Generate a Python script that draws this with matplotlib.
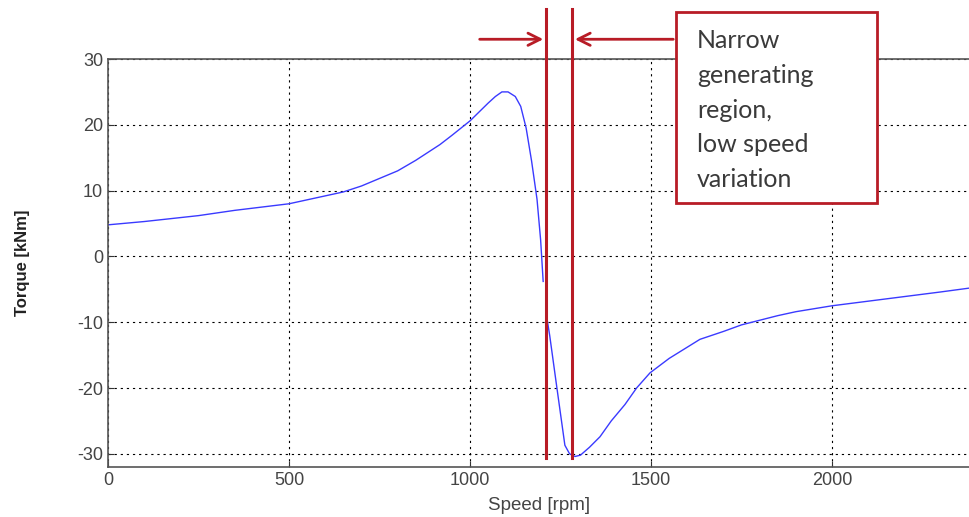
import numpy as np
import matplotlib.pyplot as plt
from matplotlib.patches import Rectangle, FancyArrowPatch

plt.rcParams['axes.unicode_minus'] = False

# torque-speed curve (nan = gap at the red line)
speed = [0, 100, 250, 350, 500, 650, 700, 800, 850, 917, 950, 1000, 1050, 1070, 1088,
         1105, 1125, 1140, 1155, 1170, 1185, 1195, 1202,
         np.nan, 1213, 1220, 1240, 1262, 1275, 1290, 1305, 1330, 1359, 1390, 1428,
         1460, 1497, 1550, 1635, 1700, 1750, 1850, 1900, 2000, 2100, 2200, 2300, 2381]
torque = [4.8, 5.3, 6.2, 7.0, 8.0, 9.8, 10.7, 13.0, 14.6, 17.0, 18.4, 20.6, 23.3, 24.3, 25.0,
          25.0, 24.3, 22.8, 19.5, 14.5, 8.7, 2.5, -3.8,
          np.nan, -9.6, -12.0, -20.0, -28.7, -30.0, -30.4, -30.2, -29.0, -27.4, -25.0, -22.5,
          -20.0, -17.7, -15.5, -12.6, -11.4, -10.4, -9.0, -8.4, -7.5, -6.8, -6.1, -5.4, -4.8]

region_edges = [1210, 1282]
xticks = [0, 500, 1000, 1500, 2000]
yticks = [-30, -20, -10, 0, 10, 20, 30]
note = "Narrow\ngenerating\nregion,\nlow speed\nvariation"

red = '#b81c26'

fig = plt.figure(figsize=(9.7, 5.17), dpi=100)
ax = fig.add_axes([108 / 970, 50 / 517, 1 - 108 / 970, 408 / 517])

ax.plot(speed, torque, color='#3a3aff', lw=1.0)

ax.set_xlim(0, 2381)
ax.set_ylim(-32, 30)
ax.set_xticks(xticks)
ax.set_yticks(yticks)
ax.tick_params(direction='in', length=4, colors='#333333', labelsize=13,
               labelcolor='#444444', top=False, right=False)
for lab in ax.get_xticklabels() + ax.get_yticklabels():
    lab.set_family('Liberation Sans')
ax.grid(True, color='black', linestyle=(0, (2, 3.5)), lw=0.8)
ax.spines['right'].set_visible(False)
for s in ['left', 'bottom', 'top']:
    ax.spines[s].set_color('#555555')
    ax.spines[s].set_linewidth(1.2)

ax.set_xlabel('Speed [rpm]', fontsize=13.5, color='#444444', family='Liberation Sans',
              labelpad=6)
ax.set_ylabel('Torque [kNm]', fontsize=12, color='#222222',
              family=['Liberation Sans Narrow', 'Liberation Sans'],
              fontweight='bold', labelpad=34)

# red boundary lines of the generating region
for xe in region_edges:
    ax.plot([xe, xe], [-30.6, 37.6], color=red, lw=2.2, clip_on=False, zorder=5)

# arrows pointing at the region
ax.add_patch(FancyArrowPatch((1019, 33.0), (region_edges[0], 33.0), arrowstyle='->',
                             mutation_scale=22, color=red, lw=2.0, clip_on=False))
ax.add_patch(FancyArrowPatch((1569, 33.0), (region_edges[1], 33.0), arrowstyle='->',
                             mutation_scale=22, color=red, lw=2.0, clip_on=False))

# text box
fig.patches.append(Rectangle((676 / 970, (517 - 203) / 517), 201 / 970, 191 / 517,
                             transform=fig.transFigure, facecolor='white',
                             edgecolor=red, lw=2.0, zorder=6))
fig.text(697 / 970, (517 - 29) / 517, note, fontsize=18, color='#3a3a3a',
         family='Lato', va='top', ha='left', linespacing=1.62, zorder=7)

fig.savefig('out.png', dpi=100)
